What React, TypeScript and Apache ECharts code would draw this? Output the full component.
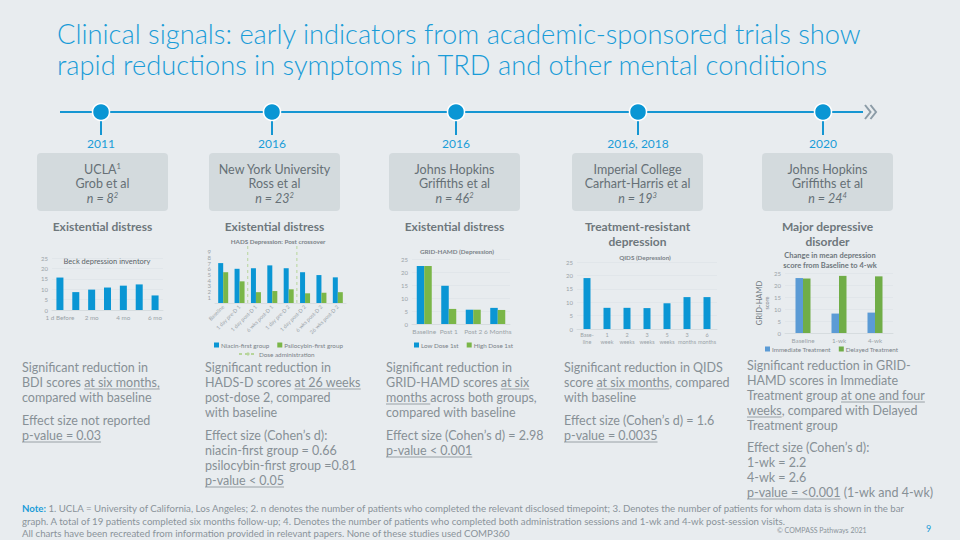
import React, { useEffect, useRef } from "react";
import * as echarts from "echarts";

// ---------------- DATA ----------------
const titleLines = [
  "Clinical signals: early indicators from academic-sponsored trials show",
  "rapid reductions in symptoms in TRD and other mental conditions",
];

const timelineYears = ["2011", "2016", "2016", "2016, 2018", "2020"];
const studyInstitutions = ["UCLA", "New York University", "Johns Hopkins", "Imperial College", "Johns Hopkins"];
const institutionSup = ["1", "", "", "", ""];
const studyAuthors = ["Grob et al", "Ross et al", "Griffiths et al", "Carhart-Harris et al", "Griffiths et al"];
const studyN = ["8", "23", "46", "19", "24"];
const studyNSup = ["2", "2", "2", "3", "4"];
const indications = [
  ["Existential distress"],
  ["Existential distress"],
  ["Existential distress"],
  ["Treatment-resistant", "depression"],
  ["Major depressive", "disorder"],
];

// Chart 1: Beck depression inventory
const bdiTitle = "Beck depression inventory";
const bdiCategories = ["1 d Before", "1 mo", "2 mo", "3 mo", "4 mo", "5 mo", "6 mo"];
const bdiValues = [15.6, 8.6, 9.8, 10.8, 11.7, 12.3, 7.0];

// Chart 2: HADS Depression
const hadsTitle = "HADS Depression: Post crossover";
const hadsCategories = [
  "Baseline",
  "1 day pre-D 1",
  "1 day post-D 1",
  "6 wks post-D 1",
  "1 day pre-D 2",
  "1 day post-D 2",
  "6 wks post-D 2",
  "26 wks post-D 2",
];
const hadsNiacin = [7.0, 6.0, 6.1, 6.6, 6.1, 5.4, 4.9, 4.5];
const hadsPsilocybin = [5.4, 3.8, 1.9, 2.1, 2.4, 1.7, 1.8, 1.9];
const doseAdministrationAt = [1.5, 4.5];

// Chart 3: GRID-HAMD
const gridTitle = "GRID-HAMD (Depression)";
const gridCategories = ["Baseline", "Post 1", "Post 2", "6 Months"];
const gridLowDose = [22.3, 14.7, 5.5, 6.2];
const gridHighDose = [22.3, 5.8, 5.5, 5.4];

// Chart 4: QIDS
const qidsTitle = "QIDS (Depression)";
const qidsCategories = ["Base-\nline", "1\nweek", "2\nweeks", "3\nweeks", "5\nweeks", "3\nmonths", "6\nmonths"];
const qidsValues = [19.0, 7.9, 7.9, 7.8, 9.6, 11.9, 11.9];

// Chart 5: MDD
const mddTitle = ["Change in mean depression", "score from Baseline to 4-wk"];
const mddCategories = ["Baseline", "1-wk", "4-wk"];
const mddImmediate = [22.9, 8.1, 8.5];
const mddDelayed = [22.7, 23.8, 23.6];

// Findings text ([...] = underlined)
const findings = [
  [
    ["Significant reduction in", "BDI scores [at six months,]", "compared with baseline"],
    ["Effect size not reported", "[p-value = 0.03]"],
  ],
  [
    ["Significant reduction in", "HADS-D scores [at 26 weeks]", "post-dose 2, compared", "with baseline"],
    ["Effect size (Cohen\u2019s d):", "niacin-first group = 0.66", "psilocybin-first group =0.81", "[p-value < 0.05]"],
  ],
  [
    ["Significant reduction in", "GRID-HAMD scores [at six]", "[months ]across both groups,", "compared with baseline"],
    ["Effect size (Cohen\u2019s d) = 2.98", "[p-value < 0.001]"],
  ],
  [
    ["Significant reduction in QIDS", "score [at six months], compared", "with baseline"],
    ["Effect size (Cohen\u2019s d) = 1.6", "[p-value = 0.0035]"],
  ],
  [
    ["Significant reduction in GRID-", "HAMD scores in Immediate", "Treatment group [at one and four]", "[weeks], compared with Delayed", "Treatment group"],
    ["Effect size (Cohen\u2019s d):", "1-wk = 2.2", "4-wk = 2.6", "[p-value = <0.001] (1-wk and 4-wk)"],
  ],
];

const noteLines = [
  "1. UCLA = University of California, Los Angeles; 2. n denotes the number of patients who completed the relevant disclosed timepoint; 3. Denotes the number of patients for whom data is shown in the bar",
  "graph. A total of 19 patients completed six months follow-up; 4. Denotes the number of patients who completed both administration sessions and 1-wk and 4-wk post-session visits.",
  "All charts have been recreated from information provided in relevant papers. None of these studies used COMP360",
];
const copyright = "\u00A9 COMPASS Pathways 2021";
const pageNumber = "9";

// ---------------- STYLE ----------------
const FONT = "Lato";
const BG = "#E8ECEF";
const TITLE_BLUE = "#1A9CD8";
const BAR_BLUE = "#0A96D4";
const BAR_GREEN = "#7AB648";
const XL_BLUE = "#5B9BD5";
const XL_GREEN = "#70AD47";
const TEXT_GRAY = "#879096";
const DARK_GRAY = "#667076";
const AXIS_GRAY = "#9AA3A8";
const SPLIT = "#DCE2E5";

let measureCtx: CanvasRenderingContext2D | null = null;
function measure(text: string, size: number, weight: string | number = 400, style = "normal") {
  if (!measureCtx) measureCtx = document.createElement("canvas").getContext("2d");
  measureCtx!.font = `${style} ${weight} ${size}px ${FONT}`;
  return measureCtx!.measureText(text).width;
}

function txt(x: number, y: number, text: string, o: any = {}) {
  const align = o.align || "left";
  return {
    type: "text",
    x,
    y,
    silent: true,
    style: {
      text,
      fill: o.fill || TEXT_GRAY,
      fontSize: o.size || 12,
      fontFamily: FONT,
      fontWeight: o.weight || 400,
      fontStyle: o.style || "normal",
      align,
      verticalAlign: "middle",
      textAlign: align,
      textVerticalAlign: "middle",
      rich: o.rich,
    },
  };
}

function buildGraphics() {
  const g: any[] = [];
  // Title
  const titleSize = (20 * 805) / measure(titleLines[0], 20, 300);
  g.push(txt(57, 33, titleLines[0], { size: titleSize, weight: 300, fill: TITLE_BLUE }));
  g.push(txt(57, 64, titleLines[1], { size: titleSize, weight: 300, fill: TITLE_BLUE }));

  // Timeline
  const lineY = 112;
  g.push({ type: "line", silent: true, shape: { x1: 60, y1: lineY, x2: 863, y2: lineY }, style: { stroke: "#1596D2", lineWidth: 2 } });
  g.push({ type: "polyline", silent: true, shape: { points: [[865, 105], [870.5, 112], [865, 119]] }, style: { stroke: "#8C9CA7", lineWidth: 2, fill: "none" } });
  g.push({ type: "polyline", silent: true, shape: { points: [[870.5, 105], [876, 112], [870.5, 119]] }, style: { stroke: "#8C9CA7", lineWidth: 2, fill: "none" } });

  const nodeX = [101, 272, 456, 638, 823];
  const boxL = [37, 209, 389, 572, 762];
  const boxW = 131;
  nodeX.forEach((x, i) => {
    g.push({ type: "line", silent: true, shape: { x1: x, y1: lineY, x2: x, y2: 135 }, style: { stroke: "#1596D2", lineWidth: 2 } });
    g.push({ type: "circle", silent: true, shape: { cx: x, cy: lineY, r: 8.5 }, style: { fill: "#0A96D4", stroke: "#FFFFFF", lineWidth: 1.5 } });
    g.push(txt(x, 143, timelineYears[i], { align: "center", size: 12, fill: TITLE_BLUE }));
    const bx = boxL[i];
    const cx = bx + boxW / 2;
    g.push({ type: "rect", silent: true, shape: { x: bx, y: 153, width: boxW, height: 58, r: 4 }, style: { fill: "#D3DADD" } });
    const rich = {
      m: { fontSize: 12.5, fontFamily: FONT, fill: DARK_GRAY },
      s: { fontSize: 7.5, fontFamily: FONT, fill: DARK_GRAY, verticalAlign: "top", padding: [0, 0, 6, 0] },
      i: { fontSize: 12.5, fontFamily: FONT, fill: DARK_GRAY, fontStyle: "italic" },
      is: { fontSize: 7.5, fontFamily: FONT, fill: DARK_GRAY, fontStyle: "italic", verticalAlign: "top", padding: [0, 0, 6, 0] },
    };
    const inst = `{m|${studyInstitutions[i]}}` + (institutionSup[i] ? `{s|${institutionSup[i]}}` : "");
    g.push(txt(cx, 169, inst, { align: "center", size: 12.5, fill: DARK_GRAY, rich }));
    g.push(txt(cx, 183.5, studyAuthors[i], { align: "center", size: 12.5, fill: DARK_GRAY }));
    g.push(txt(cx, 198, `{i|n = ${studyN[i]}}{is|${studyNSup[i]}}`, { align: "center", size: 12.5, fill: DARK_GRAY, rich }));
    indications[i].forEach((line, k) => {
      g.push(txt(cx, 226 + k * 15, line, { align: "center", size: 12, weight: 700, fill: "#6E777C" }));
    });
  });

  // Chart titles
  g.push(txt(107, 261, bdiTitle, { align: "center", size: 7.5, fill: "#5A6368" }));
  g.push(txt(278, 241, hadsTitle, { align: "center", size: 6.3, weight: 700, fill: "#7A8288" }));
  g.push(txt(457, 251, gridTitle, { align: "center", size: 6.3, weight: 700, fill: "#7A8288" }));
  g.push(txt(645, 257, qidsTitle, { align: "center", size: 6.3, weight: 700, fill: "#7A8288" }));
  g.push(txt(830, 255, mddTitle[0], { align: "center", size: 7.5, weight: 700, fill: "#6E777C" }));
  g.push(txt(830, 265, mddTitle[1], { align: "center", size: 7.5, weight: 700, fill: "#6E777C" }));

  // Findings
  const fX = [22, 205, 386, 564, 747];
  const fTop = [[367, 420], [367, 435], [367, 435], [367, 420], [365, 447]];
  const FS = 12.5;
  const LH = 15;
  findings.forEach((block, i) => {
    block.forEach((para, p) => {
      para.forEach((raw, l) => {
        const y = fTop[i][p] + l * LH;
        const plain = raw.replace(/[\[\]]/g, "");
        g.push(txt(fX[i], y, plain, { size: FS, fill: TEXT_GRAY }));
        const re = /\[([^\]]*)\]/g;
        let m: RegExpExecArray | null;
        let removed = 0;
        while ((m = re.exec(raw))) {
          const start = m.index - removed;
          const prefix = plain.slice(0, start);
          const seg = m[1];
          const x1 = fX[i] + measure(prefix, FS);
          const x2 = x1 + measure(seg, FS);
          g.push({ type: "line", silent: true, shape: { x1, y1: y + 7, x2, y2: y + 7 }, style: { stroke: TEXT_GRAY, lineWidth: 0.8 } });
          removed += 2;
        }
      });
    });
  });

  // Notes
  const noteSize = (20 * 860) / measure(noteLines[0], 20);
  const noteRich = {
    b: { fontSize: noteSize, fontFamily: FONT, fontWeight: 700, fill: TITLE_BLUE },
    t: { fontSize: noteSize, fontFamily: FONT, fill: "#8A939A" },
  };
  g.push(txt(22, 508, `{b|Note:}{t| ${noteLines[0]}}`, { size: noteSize, rich: noteRich }));
  g.push(txt(22, 520.5, noteLines[1], { size: noteSize, fill: "#8A939A" }));
  g.push(txt(22, 533, noteLines[2], { size: noteSize, fill: "#8A939A" }));
  g.push(txt(777, 530, copyright, { size: 7, fill: "#8A939A" }));
  g.push(txt(926, 528, pageNumber, { size: 9, fill: TITLE_BLUE }));
  return g;
}

function catAxis(gridIndex: number, data: string[], label: any = {}) {
  return {
    type: "category",
    gridIndex,
    data,
    axisTick: { show: false },
    axisLine: { lineStyle: { color: "#D3D9DC", width: 0.8 } },
    axisLabel: { color: AXIS_GRAY, fontSize: 6, fontFamily: FONT, margin: 4, interval: 0, ...label },
  };
}

function valAxis(gridIndex: number, max: number, interval: number, extra: any = {}) {
  return {
    type: "value",
    gridIndex,
    min: 0,
    max,
    interval,
    axisLine: { show: false },
    axisTick: { show: false },
    splitLine: { lineStyle: { color: SPLIT, width: 0.6 } },
    axisLabel: { color: AXIS_GRAY, fontSize: 6, fontFamily: FONT, margin: 4 },
    ...extra,
  };
}

function legendCfg(data: string[], left: number, top: number, extra: any = {}) {
  return {
    data,
    left,
    top,
    padding: 0,
    icon: "rect",
    itemWidth: 5,
    itemHeight: 5,
    itemGap: 8,
    selectedMode: false,
    textStyle: { fontSize: 6.3, color: "#7A8288", fontFamily: FONT, padding: [0, 0, 0, -3] },
    ...extra,
  };
}

function buildOption() {
  return {
    animation: false,
    backgroundColor: BG,
    textStyle: { fontFamily: FONT },
    grid: [
      { left: 52, top: 258, width: 111, height: 52 },
      { left: 215, top: 246, width: 131, height: 57 },
      { left: 412, top: 259, width: 98, height: 65 },
      { left: 577, top: 262, width: 140, height: 67 },
      { left: 785, top: 273, width: 108, height: 60 },
    ],
    xAxis: [
      catAxis(0, bdiCategories, { interval: 1, fontSize: 6.3 }),
      catAxis(1, hadsCategories, { rotate: 45, fontSize: 5.3, margin: 3 }),
      catAxis(2, gridCategories, { fontSize: 6.5 }),
      catAxis(3, qidsCategories, { fontSize: 5.5, lineHeight: 6.5, margin: 3 }),
      catAxis(4, mddCategories, { fontSize: 6.3 }),
      { type: "value", gridIndex: 1, min: -0.5, max: 7.5, show: false },
    ],
    yAxis: [
      valAxis(0, 25, 5),
      valAxis(1, 10, 1, { splitLine: { show: false } }),
      valAxis(2, 25, 5),
      valAxis(3, 25, 5),
      valAxis(4, 25, 5, {
        name: "{a|GRID-HAMD}\n{b|score}",
        nameLocation: "middle",
        nameRotate: 90,
        nameGap: 15,
        nameTextStyle: {
          rich: {
            a: { fontSize: 7.5, color: "#6E777C", fontFamily: FONT, lineHeight: 8 },
            b: { fontSize: 5.5, color: "#7A8288", fontFamily: FONT, lineHeight: 7 },
          },
        },
      }),
    ],
    legend: [
      legendCfg(["Niacin-first group", "Psilocybin-first group"], 214, 342),
      legendCfg(["Dose administration"], 238, 351, { icon: undefined, itemWidth: 18, itemHeight: 4 }),
      legendCfg(["Low Dose 1st", "High Dose 1st"], 414, 342),
      legendCfg(["Immediate Treatment", "Delayed Treatment"], 765, 346),
    ],
    series: [
      { type: "bar", name: "BDI", xAxisIndex: 0, yAxisIndex: 0, data: bdiValues, barWidth: 7, itemStyle: { color: BAR_BLUE } },
      { type: "bar", name: "Niacin-first group", xAxisIndex: 1, yAxisIndex: 1, data: hadsNiacin, barWidth: 5, barGap: "0%", itemStyle: { color: BAR_BLUE } },
      { type: "bar", name: "Psilocybin-first group", xAxisIndex: 1, yAxisIndex: 1, data: hadsPsilocybin, barWidth: 5, barGap: "0%", itemStyle: { color: BAR_GREEN } },
      ...doseAdministrationAt.map((x) => ({
        type: "line",
        name: "Dose administration",
        xAxisIndex: 5,
        yAxisIndex: 1,
        data: [[x, 0], [x, 10]],
        symbol: "none",
        lineStyle: { type: [3, 3], color: "#B7D59B", width: 1 },
        itemStyle: { color: "#B7D59B" },
      })),
      { type: "bar", name: "Low Dose 1st", xAxisIndex: 2, yAxisIndex: 2, data: gridLowDose, barWidth: 7.5, barGap: "0%", itemStyle: { color: BAR_BLUE } },
      { type: "bar", name: "High Dose 1st", xAxisIndex: 2, yAxisIndex: 2, data: gridHighDose, barWidth: 7.5, barGap: "0%", itemStyle: { color: BAR_GREEN } },
      { type: "bar", name: "QIDS", xAxisIndex: 3, yAxisIndex: 3, data: qidsValues, barWidth: 7, itemStyle: { color: BAR_BLUE } },
      { type: "bar", name: "Immediate Treatment", xAxisIndex: 4, yAxisIndex: 4, data: mddImmediate, barWidth: 7.5, barGap: "0%", itemStyle: { color: XL_BLUE } },
      { type: "bar", name: "Delayed Treatment", xAxisIndex: 4, yAxisIndex: 4, data: mddDelayed, barWidth: 7.5, barGap: "0%", itemStyle: { color: XL_GREEN } },
    ],
    graphic: { elements: buildGraphics() },
  };
}

export default function App() {
  const ref = useRef<HTMLDivElement>(null);
  useEffect(() => {
    document.body.style.margin = "0";
    const chart = echarts.init(ref.current!, null, { renderer: "svg" });
    chart.setOption(buildOption() as any);
    return () => chart.dispose();
  }, []);
  return <div ref={ref} style={{ position: "absolute", left: 0, top: 0, width: 960, height: 540 }} />;
}
